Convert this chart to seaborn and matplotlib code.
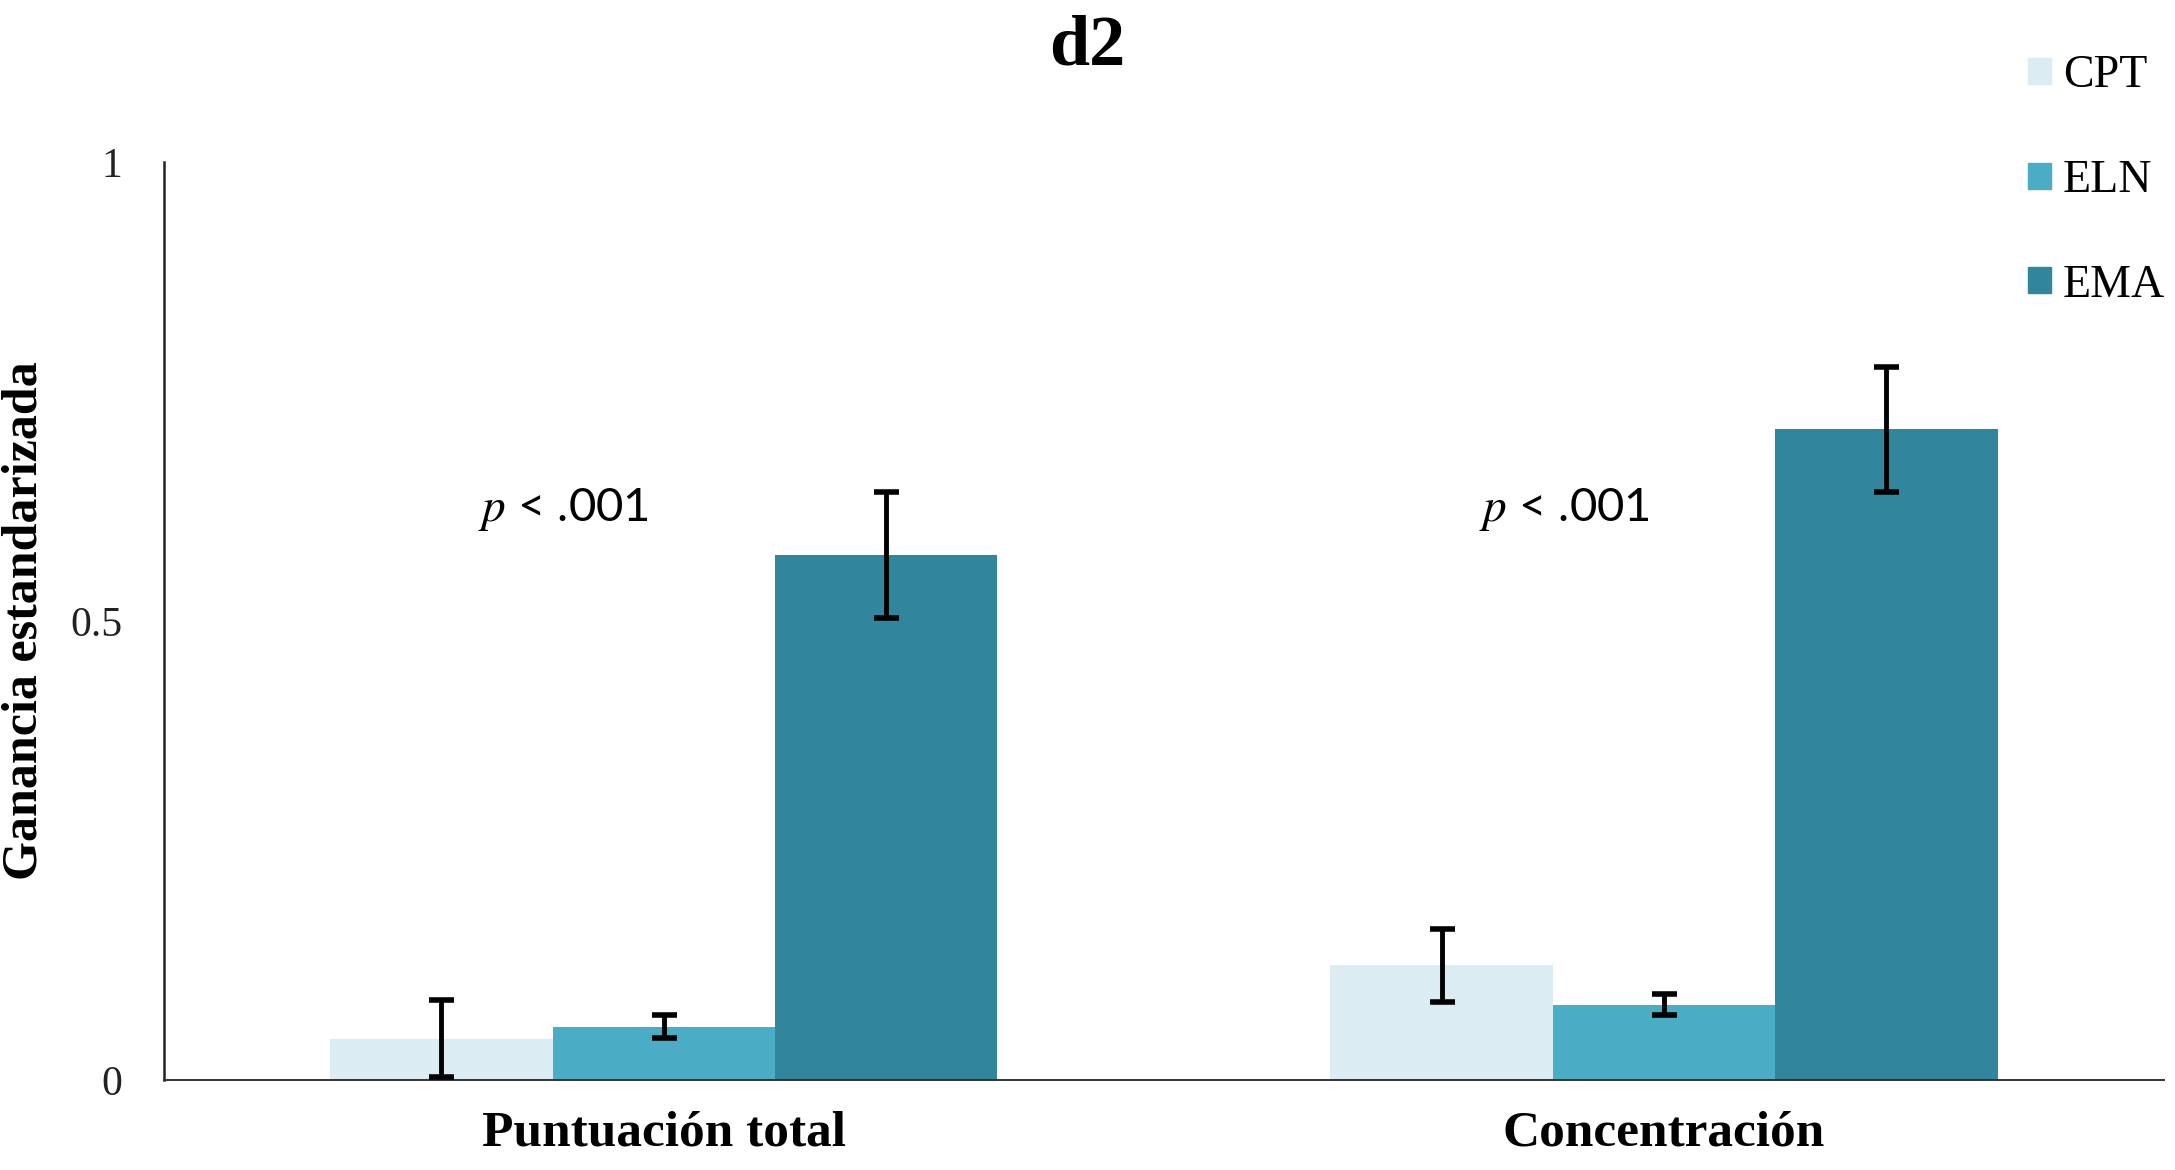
import numpy as np
import pandas as pd
import matplotlib
matplotlib.use("Agg")
import matplotlib.pyplot as plt
import seaborn as sns

sns.set_style('white')
plt.rcParams['font.family'] = ['Liberation Serif', 'DejaVu Serif']
plt.rcParams['mathtext.fontset'] = 'stix'
plt.rcParams['text.color'] = 'black'
plt.rcParams['axes.labelcolor'] = 'black'
plt.rcParams['xtick.color'] = 'black'

# values
categories = ["Puntuación total", "Concentración"]
groups = ["CPT", "ELN", "EMA"]
cpt = [0.045, 0.125]
eln = [0.058, 0.082]
ema = [0.572, 0.709]
cpt_err = [0.042, 0.040]
eln_err = [0.0125, 0.0115]
ema_err = [0.069, 0.068]
p_labels = ["$p$ < .001", "$p$ < .001"]
colors = ["#DBEDF3", "#4BACC6", "#31859C"]

df = pd.DataFrame({
    "measure": categories * 3,
    "group": [g for g in groups for _ in categories],
    "value": cpt + eln + ema,
})

fig = plt.figure(figsize=(21.75, 11.7), dpi=100)
ax = fig.add_axes([0.0753, 0.0769, 0.9197, 0.7846])

sns.barplot(data=df, x="measure", y="value", hue="group", order=categories,
            hue_order=groups, palette=colors, width=0.667, errorbar=None,
            saturation=1, linewidth=0, ax=ax)

for cont, errs in zip(ax.containers, [cpt_err, eln_err, ema_err]):
    xs = [b.get_x() + b.get_width() / 2 for b in cont]
    ys = [b.get_height() for b in cont]
    ax.errorbar(xs, ys, yerr=errs, fmt="none", ecolor="black",
                elinewidth=3.5, capsize=9, capthick=4, zorder=5)

for i, lab in enumerate(p_labels):
    ax.text(i - 0.1, 0.621, lab, ha="center", va="center", fontsize=34,
            family=["Lato", "DejaVu Sans"], color="black")

ax.set_xlim(-0.5, 1.5)
ax.set_ylim(0, 1)
ax.set_yticks([0, 0.5, 1])
ax.set_yticklabels(["0", "0.5", "1"])
ax.tick_params(axis="y", length=0, pad=30, labelsize=30, labelcolor="#222222")
ax.tick_params(axis="x", length=0, pad=22, labelsize=37)
for lab in ax.get_xticklabels():
    lab.set_fontweight("bold")
ax.set_xlabel("")
ax.set_ylabel("Ganancia estandarizada", fontsize=36, fontweight="bold")
ax.yaxis.label.set_verticalalignment("center")
ax.yaxis.set_label_coords(-0.0695, 0.5)

for s in ["top", "right"]:
    ax.spines[s].set_visible(False)
ax.spines["left"].set_color("#222222")
ax.spines["left"].set_linewidth(1.8)
ax.spines["bottom"].set_color("#333333")
ax.spines["bottom"].set_linestyle((0, (1, 1)))
ax.spines["bottom"].set_linewidth(1.4)

ax.legend_.remove()
handles = [plt.Rectangle((0, 0), 1, 1, color=c) for c in colors]
fig.legend(handles, groups, loc="upper left", bbox_to_anchor=(0.922, 0.973),
           frameon=False, fontsize=33, handlelength=0.5, handleheight=0.5,
           handletextpad=0.25, labelspacing=1.36, borderpad=0)

fig.suptitle("d2", fontsize=52, fontweight="bold", x=0.5, y=0.988, va="top")

fig.savefig("out.png", dpi=100)
